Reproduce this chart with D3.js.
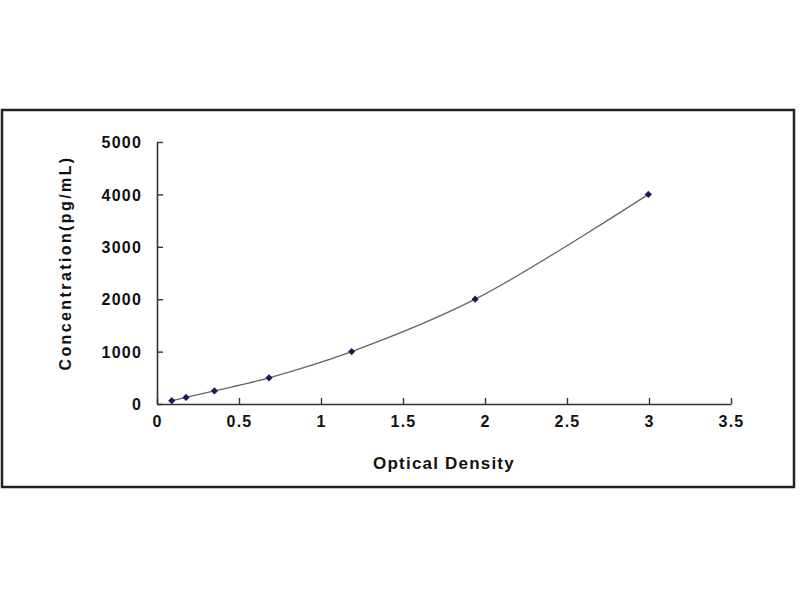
<!DOCTYPE html>
<html lang="en">
<head>
  <meta charset="UTF-8">
  <title>Standard Curve</title>
  <style>
    body { margin: 0; background: #fff; }
    text { font-family: Arial, "Liberation Sans", sans-serif; font-weight: bold; fill: #111; }
  </style>
</head>
<body>
  <svg id="svg" width="800" height="600"></svg>
  <script src="https://d3js.org/d3.v7.min.js"></script>
  <script>
    // standard points
    const od = [0.09, 0.177, 0.35, 0.683, 1.187, 1.94, 2.996]
    const conc = [62.5, 125, 250, 500, 1000, 2000, 4000]
    const xTicks = [0, 0.5, 1, 1.5, 2, 2.5, 3, 3.5]
    const yTicks = [0, 1000, 2000, 3000, 4000, 5000]

    const data = od.map((d, i) => ({ x: d, y: conc[i] }))

    const svg = d3.select('#svg')

    // outer frame
    svg.append('rect')
      .attr('x', 2).attr('y', 110)
      .attr('width', 792).attr('height', 377)
      .attr('fill', 'none')
      .attr('stroke', '#222')
      .attr('stroke-width', 2.5)

    const xScale = d3.scaleLinear().domain([0, 3.5]).range([157, 731])
    const yScale = d3.scaleLinear().domain([0, 5000]).range([404, 142])

    const xAxis = svg.append('g')
      .attr('transform', `translate(0,${yScale(0)})`)
      .call(d3.axisBottom(xScale).tickValues(xTicks).tickFormat(d3.format('')).tickSizeInner(-6).tickSizeOuter(0).tickPadding(12))
    const yAxis = svg.append('g')
      .attr('transform', `translate(${xScale(0)},0)`)
      .call(d3.axisLeft(yScale).tickValues(yTicks).tickFormat(d3.format('d')).tickSizeInner(-6).tickSizeOuter(0).tickPadding(15))

    ;[xAxis, yAxis].forEach(g => {
      g.select('.domain').attr('stroke', '#333').attr('stroke-width', 1.6)
      g.selectAll('.tick line').attr('stroke', '#333').attr('stroke-width', 1.4)
      g.selectAll('.tick text')
        .style('font-size', '16px')
        .style('font-weight', 'bold')
        .style('letter-spacing', '1.2px')
        .attr('fill', '#222')
    })
    yAxis.selectAll('.tick text').attr('dy', '0.36em')

    // fitted curve through the standards
    const line = d3.line()
      .x(d => xScale(d.x))
      .y(d => yScale(d.y))
      .curve(d3.curveCatmullRom.alpha(0.5))

    svg.append('path')
      .datum(data)
      .attr('d', line)
      .attr('fill', 'none')
      .attr('stroke', '#666')
      .attr('stroke-width', 1.3)

    svg.selectAll('.pt')
      .data(data)
      .enter()
      .append('path')
      .attr('class', 'pt')
      .attr('d', d3.symbol().type(d3.symbolSquare).size(26))
      .attr('transform', d => `translate(${xScale(d.x)},${yScale(d.y)}) rotate(45)`)
      .attr('fill', '#1a1a5e')

    svg.append('text')
      .text('Optical Density')
      .attr('x', 444)
      .attr('y', 469)
      .attr('text-anchor', 'middle')
      .style('font-size', '17px')
      .style('letter-spacing', '1.2px')

    svg.append('text')
      .text('Concentration(pg/mL)')
      .attr('transform', 'translate(71,263) rotate(-90)')
      .attr('text-anchor', 'middle')
      .style('font-size', '16px')
      .style('letter-spacing', '2.4px')
  </script>
</body>
</html>
